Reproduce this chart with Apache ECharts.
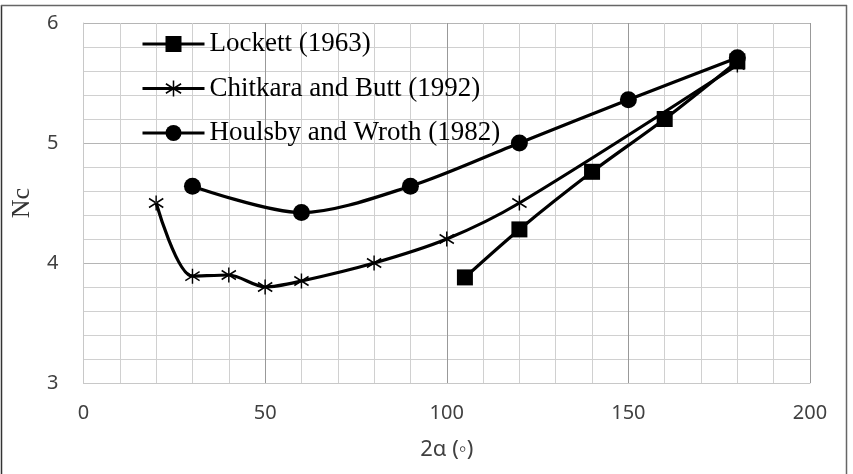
<!DOCTYPE html>
<html>
<head>
<meta charset="utf-8">
<script src="https://cdn.jsdelivr.net/npm/echarts@6/dist/echarts.min.js"></script>
<style>
    html, body { margin: 0; padding: 0; background: #fff; }
    #chart { width: 853px; height: 474px; }
</style>
</head>
<body>
<div id="chart"></div>
<script>
    // data
    var lockettX = [105, 120, 140, 160, 180];
    var lockettY = [3.88, 4.28, 4.76, 5.2, 5.68];
    var chitkaraX = [20, 30, 40, 50, 60, 80, 100, 120, 180];
    var chitkaraY = [4.5, 3.89, 3.9, 3.8, 3.85, 4.0, 4.2, 4.5, 5.65];
    var houlsbyX = [30, 60, 90, 120, 150, 180];
    var houlsbyY = [4.64, 4.42, 4.64, 5.0, 5.36, 5.71];
    var seriesNames = ['Lockett (1963)', 'Chitkara and Butt (1992)', 'Houlsby and Wroth (1982)'];

    function pairs(xs, ys) {
        return xs.map(function (x, i) { return [x, ys[i]]; });
    }

    // asterisk marker
    var starPath = 'path://M4.5 0 L5.5 0 L5.5 10 L4.5 10 Z ' +
        'M-0.26 2.43 L9.74 8.43 L10.26 7.57 L0.26 1.57 Z ' +
        'M0.26 8.43 L10.26 2.43 L9.74 1.57 L-0.26 7.57 Z';

    var myChart = echarts.init(document.getElementById('chart'));

    var lineStyle = {color: '#000', width: 3.2};

    myChart.setOption({
        animation: false,
        backgroundColor: '#fff',
        grid: {left: 83.5, right: 43, top: 23, bottom: 91},
        legend: {
            orient: 'vertical',
            left: 136,
            top: 25.5,
            itemWidth: 62,
            itemHeight: 20,
            itemGap: 17.5,
            itemTextGap: 4,
            lineStyle: {width: 3},
            textStyle: {fontFamily: 'Liberation Serif', fontSize: 27, lineHeight: 27, color: '#000'},
            data: seriesNames
        },
        xAxis: {
            type: 'value',
            min: 0,
            max: 200,
            interval: 50,
            name: '2α (◦)',
            nameLocation: 'middle',
            nameGap: 56,
            nameTextStyle: {fontFamily: 'Noto Sans', fontSize: 22, color: '#404040'},
            axisLine: {show: true, lineStyle: {color: '#c8c8c8'}},
            axisTick: {show: false},
            axisLabel: {margin: 20, fontFamily: 'Noto Sans', fontSize: 20, color: '#404040'},
            splitLine: {show: true, lineStyle: {color: '#999999', width: 1}},
            minorTick: {show: false, splitNumber: 5},
            minorSplitLine: {show: true, lineStyle: {color: '#d0d0d0', width: 1}}
        },
        yAxis: {
            type: 'value',
            min: 3,
            max: 6,
            interval: 1,
            name: 'Nc',
            nameLocation: 'middle',
            nameGap: 48,
            nameTextStyle: {fontFamily: 'Liberation Serif', fontSize: 26, color: '#333'},
            axisLine: {show: true, lineStyle: {color: '#c8c8c8'}},
            axisTick: {show: false},
            axisLabel: {margin: 25, fontFamily: 'Noto Sans', fontSize: 20, color: '#404040'},
            splitLine: {show: true, lineStyle: {color: '#b5b5b5', width: 1}},
            minorTick: {show: false, splitNumber: 5},
            minorSplitLine: {show: true, lineStyle: {color: '#d0d0d0', width: 1}}
        },
        graphic: [
            {type: 'line', shape: {x1: 1.5, y1: 5, x2: 1.5, y2: 474}, style: {stroke: '#333', lineWidth: 1.5}},
            {type: 'line', shape: {x1: 1, y1: 5.5, x2: 847, y2: 5.5}, style: {stroke: '#666', lineWidth: 1.5}},
            {type: 'line', shape: {x1: 846.5, y1: 5, x2: 846.5, y2: 474}, style: {stroke: '#666', lineWidth: 1.5}}
        ],
        series: [
            {
                name: seriesNames[0],
                type: 'line',
                smooth: 0.3,
                symbol: 'rect',
                symbolSize: 16,
                itemStyle: {color: '#000'},
                lineStyle: lineStyle,
                data: pairs(lockettX, lockettY)
            },
            {
                name: seriesNames[1],
                type: 'line',
                smooth: 0.3,
                symbol: starPath,
                symbolSize: 15,
                itemStyle: {color: '#000'},
                lineStyle: lineStyle,
                data: pairs(chitkaraX, chitkaraY)
            },
            {
                name: seriesNames[2],
                type: 'line',
                smooth: 0.3,
                symbol: 'circle',
                symbolSize: 17,
                itemStyle: {color: '#000'},
                lineStyle: lineStyle,
                data: pairs(houlsbyX, houlsbyY)
            }
        ]
    });
</script>
</body>
</html>
